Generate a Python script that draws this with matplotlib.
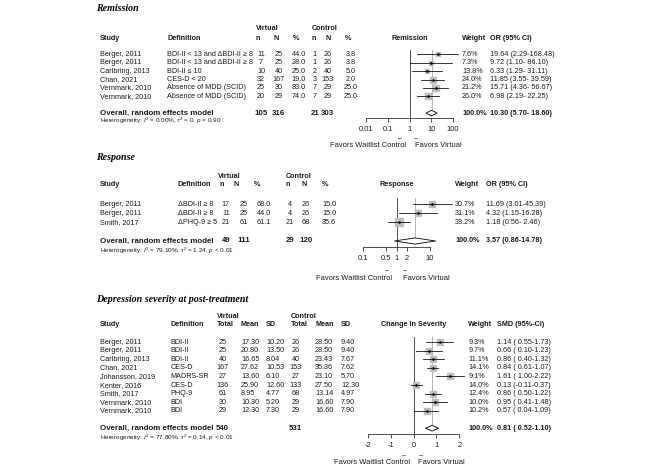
import matplotlib
matplotlib.use('Agg')
import matplotlib.pyplot as plt
import numpy as np

plt.rcParams['font.family'] = ['Liberation Sans', 'DejaVu Sans']
plt.rcParams['mathtext.fontset'] = 'custom'
plt.rcParams['mathtext.rm'] = 'Liberation Sans'
plt.rcParams['mathtext.it'] = 'Liberation Sans:italic'
plt.rcParams['mathtext.bf'] = 'Liberation Sans:bold'

# ---------------- DATA ----------------
# Remission
rem_study = ['Berger, 2011', 'Berger, 2011', 'Carlbring, 2013', 'Chan, 2021', 'Vernmark, 2010', 'Vernmark, 2010']
rem_def = ['BDI-II < 13 and ΔBDI-II ≥ 8', 'BDI-II < 13 and ΔBDI-II ≥ 8', 'BDI-II ≤ 10', 'CES-D < 20',
           'Absence of MDD (SCID)', 'Absence of MDD (SCID)']
rem_v_n = [11, 7, 10, 32, 25, 20]
rem_v_N = [25, 25, 40, 167, 30, 29]
rem_v_pct = [44.0, 28.0, 25.0, 19.0, 83.0, 74.0]
rem_c_n = [1, 1, 2, 3, 7, 7]
rem_c_N = [26, 26, 40, 153, 29, 29]
rem_c_pct = [3.8, 3.8, 5.0, 2.0, 25.0, 25.0]
rem_or = [19.64, 9.72, 6.33, 11.85, 15.71, 6.98]
rem_lo = [2.29, 1.10, 1.29, 3.55, 4.36, 2.19]
rem_hi = [168.48, 86.10, 31.11, 39.59, 56.67, 22.25]
rem_w = [7.6, 7.3, 13.8, 24.0, 21.2, 26.0]
rem_tot = [105, 316, 21, 303]
rem_ov = [10.30, 5.70, 18.60]
rem_het = r'Heterogeneity: $I^2$ = 0.00%, $\tau^2$ = 0, $p$ = 0.90'
rem_ticks = [0.01, 0.1, 1, 10, 100]
rem_ticklab = ['0.01', '0.1', '1', '10', '100']

# Response
res_study = ['Berger, 2011', 'Berger, 2011', 'Smith, 2017']
res_def = ['ΔBDI-II ≥ 8', 'ΔBDI-II ≥ 8', 'ΔPHQ-9 ≥ 5']
res_v_n = [17, 11, 21]
res_v_N = [25, 25, 61]
res_v_pct = [68.0, 44.0, 61.1]
res_c_n = [4, 4, 21]
res_c_N = [26, 26, 68]
res_c_pct = [15.0, 15.0, 35.6]
res_or = [11.69, 4.32, 1.18]
res_lo = [3.01, 1.15, 0.56]
res_hi = [45.39, 16.28, 2.46]
res_w = [30.7, 31.1, 38.2]
res_tot = [49, 111, 29, 120]
res_ov = [3.57, 0.86, 14.78]
res_het = r'Heterogeneity: $I^2$ = 79.10%, $\tau^2$ = 1.24, $p$ < 0.01'
res_ticks = [0.1, 0.5, 1, 2, 10]
res_ticklab = ['0.1', '0.5', '1', '2', '10']

# Depression severity
dep_study = ['Berger, 2011', 'Berger, 2011', 'Carlbring, 2013', 'Chan, 2021', 'Johansson, 2019',
             'Kenter, 2016', 'Smith, 2017', 'Vernmark, 2010', 'Vernmark, 2010']
dep_def = ['BDI-II', 'BDI-II', 'BDI-II', 'CES-D', 'MADRS-SR', 'CES-D', 'PHQ-9', 'BDI', 'BDI']
dep_v_tot = [25, 25, 40, 167, 27, 136, 61, 30, 29]
dep_v_mean = [17.30, 20.80, 16.65, 27.62, 13.60, 25.90, 8.95, 10.30, 12.30]
dep_v_sd = [10.20, 13.50, 8.04, 10.53, 6.10, 12.60, 4.77, 5.20, 7.30]
dep_c_tot = [26, 26, 40, 153, 27, 133, 68, 29, 29]
dep_c_mean = [28.50, 28.50, 23.43, 35.36, 23.10, 27.50, 13.14, 16.60, 16.60]
dep_c_sd = [9.40, 9.40, 7.67, 7.62, 5.70, 12.30, 4.97, 7.90, 7.90]
dep_smd = [1.14, 0.66, 0.86, 0.84, 1.61, 0.13, 0.86, 0.95, 0.57]
dep_lo = [0.55, 0.10, 0.40, 0.61, 1.00, -0.11, 0.50, 0.41, 0.04]
dep_hi = [1.73, 1.23, 1.32, 1.07, 2.22, 0.37, 1.22, 1.48, 1.09]
dep_w = [9.3, 9.7, 11.1, 14.1, 9.1, 14.0, 12.4, 10.0, 10.2]
dep_tot = [540, 531]
dep_ov = [0.81, 0.52, 1.10]
dep_het = r'Heterogeneity: $I^2$ = 77.80%, $\tau^2$ = 0.14, $p$ < 0.01'
dep_ticks = [-2, -1, 0, 1, 2]
dep_ticklab = ['-2', '-1', '0', '1', '2']

# ---------------- STYLE / LAYOUT ----------------
W, H = 654, 472
FS = 5.2
FS_OV = 5.7
FS_H = 4.6
FS_T = 7.2
TXT = '#1a1a1a'
SQ = '#bebebe'
LINE = '#333333'

fig = plt.figure(figsize=(W / 100, H / 100), dpi=100)
fig.patch.set_facecolor('white')


def T(x, y, s, ha='left', bold=False, size=FS, **kw):
    fig.text(x / W, 1 - y / H, s, ha=ha, va='center', fontsize=size,
             fontweight='bold' if bold else 'normal', color=TXT, **kw)


def title(x, y, s):
    fig.text(x / W, 1 - y / H, s, ha='left', va='center', fontsize=FS_T,
             family='Liberation Serif', fontweight='bold', style='italic', color='black')


def forest(x0, x1, xlim, log, y0, dy, top_idx, axis_idx, est, lo, hi, w, ov, ov_idx,
           ticks, ticklab, null, sqmax):
    ytop = y0 + top_idx * dy
    ybot = y0 + axis_idx * dy
    ax = fig.add_axes([x0 / W, 1 - ybot / H, (x1 - x0) / W, (ybot - ytop) / H])
    if log:
        ax.set_xscale('log')
    ax.set_xlim(*xlim)
    ax.set_ylim(axis_idx, top_idx)
    ax.patch.set_alpha(0)
    for s in ['left', 'right', 'top']:
        ax.spines[s].set_visible(False)
    ax.spines['bottom'].set_linewidth(0.6)
    ax.spines['bottom'].set_color(LINE)
    ax.set_yticks([])
    ax.set_xticks(ticks)
    ax.set_xticklabels(ticklab)
    ax.minorticks_off()
    ax.tick_params(axis='x', length=3, width=0.6, color=LINE, pad=2.5, labelsize=5.4, labelcolor=TXT)
    # null line
    ax.plot([null, null], [top_idx, axis_idx], color=LINE, lw=0.6, clip_on=False, zorder=1)
    # overall dotted line
    ax.plot([ov[0], ov[0]], [top_idx, ov_idx - 0.35], color='#555555', lw=0.6, ls=(0, (1.2, 1.2)),
            clip_on=False, zorder=1)
    wmax = max(w)
    for i, (e, l, h, ww) in enumerate(zip(est, lo, hi, w)):
        ax.plot([e], [i], marker='s', ms=sqmax * np.sqrt(ww / wmax), mfc=SQ, mec=SQ,
                clip_on=False, zorder=2)
        ax.plot([l, h], [i, i], color='black', lw=0.55, clip_on=False, zorder=3)
        ax.plot([e], [i], marker='o', ms=0.9, color='black', clip_on=False, zorder=4)
    hh = 0.33
    ax.fill([ov[1], ov[0], ov[2], ov[0]], [ov_idx, ov_idx - hh, ov_idx, ov_idx + hh],
            facecolor='white', edgecolor='black', lw=0.6, clip_on=False, zorder=3)
    return ax


def favors(y_arrow, y_text, xl, xr, xt_l, xt_r):
    T(xl, y_arrow, '←', ha='center', size=4.3)
    T(xr, y_arrow, '→', ha='center', size=4.3)
    T(xt_l, y_text, 'Favors Waitlist Control', ha='right', size=5.4)
    T(xt_r, y_text, 'Favors Virtual', ha='left', size=5.4)


# ================= REMISSION =================
y0, dy = 54.3, 8.4
ry = [y0 + i * dy for i in range(len(rem_study))]
yov = y0 + 7 * dy
title(96, 8.3, 'Remission')
T(256, 28.3, 'Virtual', bold=True)
T(312, 28.3, 'Control', bold=True)
for s, x in [('Study', 100), ('Definition', 167), ('n', 256), ('N', 274), ('%', 293),
             ('n', 312), ('N', 325), ('%', 345), ('Weight', 462), ('OR (95% CI)', 490)]:
    T(x, 38.3, s, bold=True)
T(409.5, 38.3, 'Remission', ha='center', bold=True)
for i, y in enumerate(ry):
    T(100, y, rem_study[i])
    T(167, y, rem_def[i])
    T(261, y, str(rem_v_n[i]), ha='center')
    T(278.5, y, str(rem_v_N[i]), ha='center')
    T(298.5, y, f'{rem_v_pct[i]:.1f}', ha='center')
    T(314.7, y, str(rem_c_n[i]), ha='center')
    T(327.5, y, str(rem_c_N[i]), ha='center')
    T(351, y, f'{rem_c_pct[i]:.1f}', ha='center')
    T(462, y, f'{rem_w[i]:.1f}%')
    T(490, y, f'{rem_or[i]:.2f} ({rem_lo[i]:.2f}-{rem_hi[i]:6.2f})')
T(100, yov, 'Overall, random effects model', bold=True, size=FS_OV)
for x, v in zip([261, 278.5, 314.7, 327.5], rem_tot):
    T(x, yov, str(v), ha='center', bold=True, size=FS_OV)
T(462, yov, '100.0%', bold=True)
T(490, yov, f'{rem_ov[0]:.2f} ({rem_ov[1]:.2f}-{rem_ov[2]:6.2f})', bold=True)
T(100, 121.3, rem_het, size=FS_H)
forest(366, 453, (0.01, 100), True, y0, dy, -0.51, (118 - y0) / dy, rem_or, rem_lo, rem_hi,
       rem_w, rem_ov, 7, rem_ticks, rem_ticklab, 1, 4.6)
favors(138, 145.7, 400, 416, 406, 415)

# ================= RESPONSE =================
y0, dy = 204, 9.25
ry = [y0 + i * dy for i in range(len(res_study))]
yov = y0 + 4 * dy
title(96, 157, 'Response')
T(218, 176, 'Virtual', bold=True)
T(286, 176, 'Control', bold=True)
for s, x in [('Study', 100), ('Definition', 178), ('n', 219), ('N', 234), ('%', 254),
             ('n', 286), ('N', 301), ('%', 322), ('Weight', 455), ('OR (95% CI)', 485.7)]:
    T(x, 185, s, bold=True)
T(396.5, 185, 'Response', ha='center', bold=True)
for i, y in enumerate(ry):
    T(100, y, res_study[i])
    T(178, y, res_def[i])
    T(225.8, y, str(res_v_n[i]), ha='center')
    T(243.7, y, str(res_v_N[i]), ha='center')
    T(263.8, y, f'{res_v_pct[i]:.1f}', ha='center')
    T(290, y, str(res_c_n[i]), ha='center')
    T(305.8, y, str(res_c_N[i]), ha='center')
    T(329, y, f'{res_c_pct[i]:.1f}', ha='center')
    T(455, y, f'{res_w[i]:.1f}%')
    T(485.7, y, f'{res_or[i]:.2f} ({res_lo[i]:.2f}-{res_hi[i]:5.2f})')
T(100, yov, 'Overall, random effects model', bold=True, size=FS_OV)
for x, v in zip([225.8, 243.7, 290, 305.8], res_tot):
    T(x, yov, str(v), ha='center', bold=True, size=FS_OV)
T(455, yov, '100.0%', bold=True)
T(485.7, yov, f'{res_ov[0]:.2f} ({res_ov[1]:.2f}-{res_ov[2]:5.2f})', bold=True)
T(100, 250.5, res_het, size=FS_H)
forest(363, 430, (0.1, 10), True, y0, dy, -0.65, (247.3 - y0) / dy, res_or, res_lo, res_hi,
       res_w, res_ov, 4, res_ticks, res_ticklab, 1, 5.2)
favors(270, 278, 386.7, 405, 391.7, 402.7)

# ================= DEPRESSION =================
y0, dy = 342, 8.62
ry = [y0 + i * dy for i in range(len(dep_study))]
yov = y0 + 10 * dy
title(96, 300, 'Depression severity at post-treatment')
T(216.7, 316, 'Virtual', bold=True)
T(291, 316, 'Control', bold=True)
for s, x in [('Study', 100), ('Definition', 170.7), ('Total', 216.7), ('Mean', 240.7), ('SD', 266),
             ('Total', 291), ('Mean', 315), ('SD', 340.7), ('Weight', 468.3), ('SMD (95%-CI)', 496.7)]:
    T(x, 325, s, bold=True)
T(413.5, 325, 'Change in Severity', ha='center', bold=True)


def sgn(v):
    return f'{v:5.2f}'


for i, y in enumerate(ry):
    T(100, y, dep_study[i])
    T(170.7, y, dep_def[i])
    T(222.5, y, str(dep_v_tot[i]), ha='center')
    T(241, y, f'{dep_v_mean[i]:.2f}')
    T(266, y, f'{dep_v_sd[i]:.2f}')
    T(295.8, y, str(dep_c_tot[i]), ha='center')
    T(315, y, f'{dep_c_mean[i]:.2f}')
    T(341, y, f'{dep_c_sd[i]:.2f}')
    T(468.3, y, f'{dep_w[i]:.1f}%')
    T(496.7, y, f'{dep_smd[i]:.2f} ({sgn(dep_lo[i])}-{dep_hi[i]:.2f})')
T(100, yov, 'Overall, random effects model', bold=True, size=FS_OV)
T(222.5, yov, str(dep_tot[0]), ha='center', bold=True, size=FS_OV)
T(295.8, yov, str(dep_tot[1]), ha='center', bold=True, size=FS_OV)
T(468.3, yov, '100.0%', bold=True)
T(496.7, yov, f'{dep_ov[0]:.2f} ({sgn(dep_ov[1])}-{dep_ov[2]:.2f})', bold=True)
T(100, 437.5, dep_het, size=FS_H)
forest(367.7, 459.3, (-2, 2), False, y0, dy, -0.58, (434.3 - y0) / dy, dep_smd, dep_lo, dep_hi,
       dep_w, dep_ov, 10, dep_ticks, dep_ticklab, 0, 5.0)
favors(455, 463, 404, 421, 410, 418.3)

fig.savefig('out.png', dpi=100, facecolor='white')
